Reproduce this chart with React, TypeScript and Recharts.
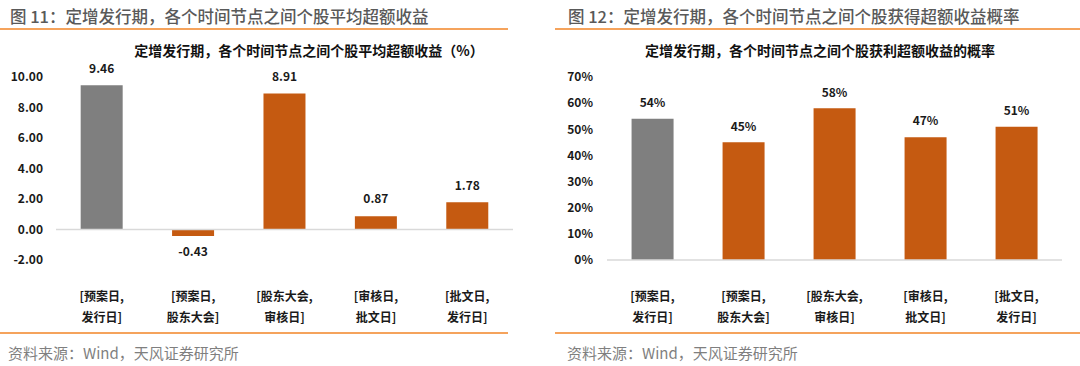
import { Bar, BarChart, Cell, LabelList, ReferenceLine, XAxis, YAxis } from "recharts";

const categories = [
  "[预案日,\n发行日]",
  "[预案日,\n股东大会]",
  "[股东大会,\n审核日]",
  "[审核日,\n批文日]",
  "[批文日,\n发行日]",
];
const avgExcess = [9.46, -0.43, 8.91, 0.87, 1.78];
const winRate = [0.54, 0.45, 0.58, 0.47, 0.51];
const avgTicks = [-2, 0, 2, 4, 6, 8, 10];
const rateTicks = [0, 0.1, 0.2, 0.3, 0.4, 0.5, 0.6, 0.7];

const avgData = categories.map((name, i) => ({ name, value: avgExcess[i] }));
const rateData = categories.map((name, i) => ({ name, value: winRate[i] }));

const FONT = "'Noto Sans CJK SC', 'Noto Sans', sans-serif";
const GRAY = "#7f7f7f";
const ORANGE = "#c55a11";
const RULE = "#f5a35c";

function CatTick({ x, y, payload }: any) {
  const lines = String(payload.value).split("\n");
  return (
    <g>
      {lines.map((l, i) => (
        <text
          key={i}
          x={x}
          y={y + 38 + i * 21}
          textAnchor="middle"
          dominantBaseline="middle"
          fontSize={12}
          fontWeight={700}
          fontFamily={FONT}
          fill="#1a1a1a"
        >
          {l}
        </text>
      ))}
    </g>
  );
}

function makeLabel(fmt: (v: number) => string, above: number, below: number) {
  return (props: any) => {
    const { x, y, width, height, value } = props;
    const top = Math.min(y, y + height);
    const bottom = Math.max(y, y + height);
    const ly = value >= 0 ? top - above : bottom + below;
    return (
      <text
        x={x + width / 2}
        y={ly}
        textAnchor="middle"
        dominantBaseline="middle"
        fontSize={12}
        fontWeight={700}
        fontFamily={FONT}
        fill="#1a1a1a"
      >
        {fmt(value)}
      </text>
    );
  };
}

const tickStyle = { fontSize: 12, fontWeight: 700, fontFamily: FONT, fill: "#1a1a1a" };

function Panel({
  left,
  fig,
  title,
  ruleFrom,
  titleCenter,
  children,
}: {
  left: number;
  fig: string;
  title: string;
  ruleFrom: number;
  titleCenter: number;
  children: any;
}) {
  return (
    <div style={{ position: "absolute", left, top: 0, width: 540, height: 366 }}>
      <div
        style={{
          position: "absolute",
          left: ruleFrom === 0 ? 10 : 28,
          top: 4,
          fontSize: 16.5,
          fontWeight: 500,
          color: "#595959",
          fontFamily: FONT,
          whiteSpace: "nowrap",
        }}
      >
        {fig}
      </div>
      <div
        style={{
          position: "absolute",
          left: ruleFrom,
          right: ruleFrom === 0 ? 32 : 0,
          top: 28,
          height: 2,
          background: RULE,
        }}
      />
      <div
        style={{
          position: "absolute",
          left: titleCenter - 200,
          width: 400,
          top: 40,
          textAlign: "center",
          fontSize: 14,
          fontWeight: 700,
          color: "#111",
          fontFamily: FONT,
          whiteSpace: "nowrap",
        }}
      >
        {title}
      </div>
      <div style={{ position: "absolute", left: 0, top: 0 }}>{children}</div>
      <div
        style={{
          position: "absolute",
          left: ruleFrom,
          right: ruleFrom === 0 ? 32 : 0,
          top: 332,
          height: 2,
          background: RULE,
        }}
      />
      <div
        style={{
          position: "absolute",
          left: ruleFrom === 0 ? 8 : 27,
          top: 342,
          fontSize: 15,
          color: GRAY,
          fontFamily: FONT,
          whiteSpace: "nowrap",
        }}
      >
        资料来源：Wind，天风证券研究所
      </div>
    </div>
  );
}

export default function App() {
  return (
    <div
      style={{
        position: "absolute",
        left: 0,
        top: 0,
        width: 1080,
        height: 366,
        background: "#fff",
        overflow: "hidden",
      }}
    >
      <Panel
        left={0}
        ruleFrom={0}
        titleCenter={309}
        fig="图 11：定增发行期，各个时间节点之间个股平均超额收益"
        title="定增发行期，各个时间节点之间个股平均超额收益（%）"
      >
        <BarChart
          width={540}
          height={366}
          data={avgData}
          margin={{ top: 77, right: 27, left: 6, bottom: 46 }}
          barCategoryGap="27%"
        >
          <XAxis
            dataKey="name"
            axisLine={false}
            tickLine={false}
            tickSize={0}
            tickMargin={0}
            height={60}
            interval={0}
            tick={<CatTick />}
          />
          <YAxis
            width={50}
            domain={[-2, 10]}
            ticks={avgTicks}
            axisLine={false}
            tickLine={false}
            tickSize={6}
            tickMargin={7}
            tick={tickStyle}
            tickFormatter={(v: number) => v.toFixed(2)}
          />
          <ReferenceLine y={0} stroke="#d9d9d9" strokeWidth={1.5} />
          <Bar dataKey="value" isAnimationActive={false}>
            {avgData.map((_, i) => (
              <Cell key={i} fill={i === 0 ? GRAY : ORANGE} />
            ))}
            <LabelList dataKey="value" content={makeLabel((v) => v.toFixed(2), 16, 17)} />
          </Bar>
        </BarChart>
      </Panel>
      <Panel
        left={540}
        ruleFrom={15}
        titleCenter={280}
        fig="图 12：定增发行期，各个时间节点之间个股获得超额收益概率"
        title="定增发行期，各个时间节点之间个股获利超额收益的概率"
      >
        <BarChart
          width={540}
          height={366}
          data={rateData}
          margin={{ top: 77, right: 18, left: 17, bottom: 46 }}
          barCategoryGap="27%"
        >
          <XAxis
            dataKey="name"
            axisLine={false}
            tickLine={false}
            tickSize={0}
            tickMargin={0}
            height={60}
            interval={0}
            tick={<CatTick />}
          />
          <YAxis
            width={50}
            domain={[0, 0.7]}
            ticks={rateTicks}
            axisLine={false}
            tickLine={false}
            tickSize={6}
            tickMargin={8}
            tick={tickStyle}
            tickFormatter={(v: number) => `${Math.round(v * 100)}%`}
          />
          <ReferenceLine y={0} stroke="#d9d9d9" strokeWidth={1.5} />
          <Bar dataKey="value" isAnimationActive={false}>
            {rateData.map((_, i) => (
              <Cell key={i} fill={i === 0 ? GRAY : ORANGE} />
            ))}
            <LabelList
              dataKey="value"
              content={makeLabel((v) => `${Math.round(v * 100)}%`, 15, 15)}
            />
          </Bar>
        </BarChart>
      </Panel>
    </div>
  );
}
